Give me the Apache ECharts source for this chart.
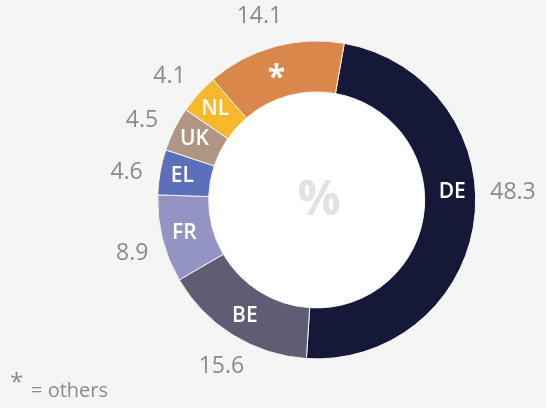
<!DOCTYPE html>
<html><head><meta charset="utf-8">
<script src="https://cdn.jsdelivr.net/npm/echarts@6/dist/echarts.min.js"></script>
<style>html,body{margin:0;padding:0;background:#f5f5f5}#c{width:546px;height:408px}</style>
</head><body><div id="c"></div>
<script>
const categories = ['DE','BE','FR','EL','UK','NL','*'];
const values = [48.3, 15.6, 8.9, 4.6, 4.5, 4.1, 14.1];
const valueLabels = ['48.3','15.6','8.9','4.6','4.5','4.1','14.1'];
const colors = ['#161838','#605c74','#9394c4','#5c6fbb','#b09484','#f7b82c','#d9874a'];
const noteStar = '*';
const noteText = '= others';
const centerText = '%';

const chart = echarts.init(document.getElementById('c'));
const center = ['58%', '49%'];
const start = 80;
const FONT = '"Open Sans", sans-serif';
function nudgeIn(p){ if (p.dataIndex === 0) return {y: 192}; if (p.dataIndex === 6) return {dy: 11, dx: -4}; return {}; }
function nudgeOut(p){ if (p.dataIndex === 0) return {y: 192, dx: 5}; return {}; }
chart.setOption({
  backgroundColor: '#f5f5f5',
  animation: false,
  series: [
    {type:'pie', silent:true, center:center, radius:[0,108], label:{show:false}, labelLine:{show:false},
     data:[{value:1, itemStyle:{color:'#ffffff'}}]},
    {type:'pie', silent:true, center:center, radius:[108,159], startAngle:start, clockwise:true,
     itemStyle:{borderColor:'#f5f5f5', borderWidth:1},
     label:{show:true, position:'inside', formatter:(p)=> p.name === '*' ? '{s|*}' : p.name, color:'#ffffff', fontFamily:FONT, fontWeight:600, fontSize:21,
            rich:{s:{fontSize:32, fontWeight:'bold', color:'#ffffff', fontFamily:FONT}}},
     labelLine:{show:false},
     labelLayout: nudgeIn,
     data: categories.map((c,i)=>({name:c, value:values[i], itemStyle:{color:colors[i]}}))},
    {type:'pie', silent:true, center:center, radius:[170,208], startAngle:start+2, clockwise:true,
     itemStyle:{color:'rgba(0,0,0,0)'},
     label:{show:true, position:'inside', formatter:(p)=>valueLabels[p.dataIndex], color:'#8a8a8a', fontFamily:FONT, fontSize:23},
     labelLine:{show:false},
     labelLayout: nudgeOut,
     data: categories.map((c,i)=>({name:c+'_v', value:values[i]}))}
  ],
  graphic: [
    {type:'text', x:319, y:201, style:{text:centerText, fill:'#e2e2e2', font:'bold 48px ' + FONT, textAlign:'center', textVerticalAlign:'middle'}, z:10},
    {type:'text', x:10, y:371, style:{text:noteStar, fill:'#8a8a8a', font:'24px ' + FONT}},
    {type:'text', x:31, y:381, style:{text:noteText, fill:'#8a8a8a', font:'20px ' + FONT}}
  ]
});
</script></body></html>
